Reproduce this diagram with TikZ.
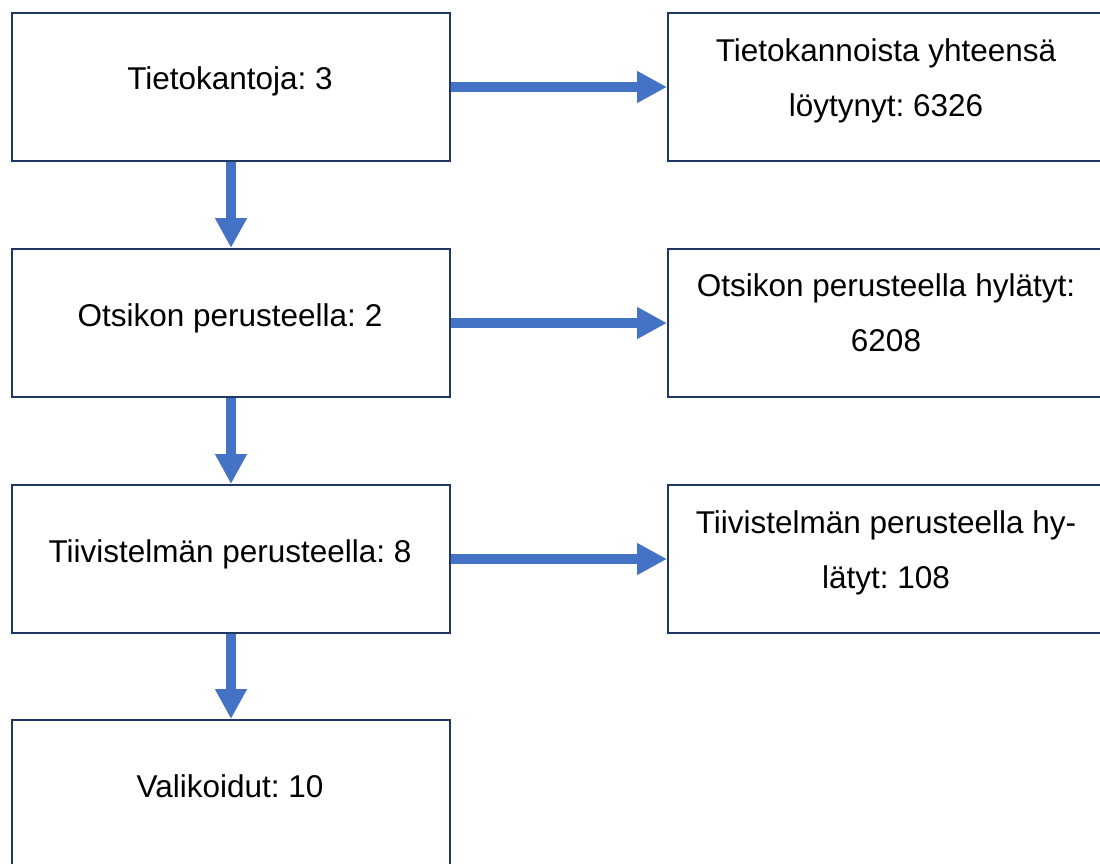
\documentclass[tikz,border=0pt]{standalone}
\usepackage{fontspec}
\setmainfont{Liberation Sans}
\usetikzlibrary{arrows.meta}
\definecolor{boxline}{HTML}{1F3763}
\definecolor{arrowblue}{HTML}{4472C4}
\frenchspacing
\begin{document}
\begin{tikzpicture}[x=1pt,y=-1pt,
  box/.style={draw=boxline,line width=2pt,fill=white,minimum width=438pt,minimum height=148pt,inner sep=0pt,anchor=north west},
  txt/.style={font=\fontsize{31.5pt}{55pt}\selectfont\frenchspacing,align=center,inner sep=0pt,anchor=base},
  flow/.style={draw=arrowblue,line width=10pt,-{Triangle[width=30pt,length=30pt]}}]
\useasboundingbox (0,0) rectangle (1100,864);
% left column
\node[box] (b1) at (11,12) {};
\node[box] (b2) at (11,248) {};
\node[box] (b3) at (11,484) {};
\node[box] (b4) at (11,719) {};
% right column
\node[box] (r1) at (667,12) {};
\node[box] (r2) at (667,248) {};
\node[box] (r3) at (667,484) {};
% texts
\node[txt] (t1) at (230,90) {Tietokantoja: 3};
\node[txt] (t2) at (230,326) {Otsikon perusteella: 2};
\node[txt] (t3) at (230,562) {Tiivistelmän perusteella: 8};
\node[txt] (t4) at (230,797) {Valikoidut: 10};
\node[txt] (u1) at (886,117) {Tietokannoista yhteensä\\löytynyt: 6326};
\node[txt] (u2) at (886,351) {Otsikon perusteella hylätyt:\\6208};
\node[txt] (u3) at (886,588) {Tiivistelmän perusteella hy-\\lätyt: 108};
% arrows
\draw[flow] (b1.south) -- (b2.north);
\draw[flow] (b2.south) -- (b3.north);
\draw[flow] (b3.south) -- (b4.north);
\draw[flow] (b1.east) -- (r1.west);
\draw[flow] (b2.east) -- (r2.west);
\draw[flow] (b3.east) -- (r3.west);
\end{tikzpicture}
\end{document}
